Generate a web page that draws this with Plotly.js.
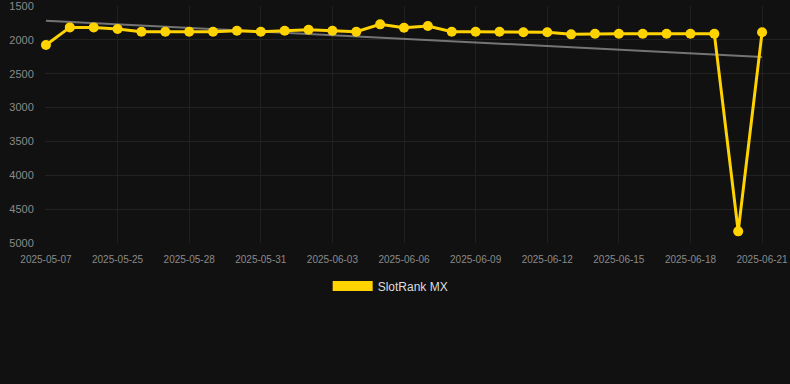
<!DOCTYPE html>
<html>
<head>
<meta charset="utf-8">
<script src="https://cdn.plot.ly/plotly-3.0.1.min.js"></script>
<style>html,body{margin:0;padding:0;background:#111111;}#chart{width:790px;height:384px;}</style>
</head>
<body>
<div id="chart"></div>
<script>
const dates = ["2025-05-07","2025-05-23","2025-05-24","2025-05-25","2025-05-26","2025-05-27","2025-05-28","2025-05-29","2025-05-30","2025-05-31","2025-06-01","2025-06-02","2025-06-03","2025-06-04","2025-06-05","2025-06-06","2025-06-07","2025-06-08","2025-06-09","2025-06-10","2025-06-11","2025-06-12","2025-06-13","2025-06-14","2025-06-15","2025-06-16","2025-06-17","2025-06-18","2025-06-19","2025-06-20","2025-06-21"];
const ranks = [2075,1815,1815,1840,1879,1879,1879,1879,1864,1879,1864,1849,1864,1879,1770,1820,1795,1879,1879,1879,1888,1888,1918,1908,1908,1908,1908,1908,1908,4829,1888];
const trendDates = ["2025-05-07","2025-06-21"];
const trendValues = [1717,2252];
const tickDates = ["2025-05-07","2025-05-25","2025-05-28","2025-05-31","2025-06-03","2025-06-06","2025-06-09","2025-06-12","2025-06-15","2025-06-18","2025-06-21"];
const yTicks = [1500,2000,2500,3000,3500,4000,4500,5000];
const seriesName = "SlotRank MX";

const traces = [
  {x: trendDates, y: trendValues, type: "scatter", mode: "lines", line: {color: "rgba(150,150,150,0.75)", width: 2}, showlegend: false, hoverinfo: "skip"},
  {x: dates, y: ranks, type: "scatter", mode: "lines+markers", line: {color: "#FFD300", width: 3}, marker: {color: "#FFD300", size: 10}, showlegend: false, name: seriesName, cliponaxis: false},
  {x: [null], y: [null], type: "scatter", mode: "lines", line: {color: "#FFD300", width: 11}, name: seriesName, showlegend: true}
];

const layout = {
  width: 790, height: 384,
  paper_bgcolor: "#111111", plot_bgcolor: "#111111",
  margin: {l: 45, r: 0, t: 6, b: 141},
  font: {family: "Liberation Sans, Arial, sans-serif", color: "#888888"},
  xaxis: {
    type: "category", categoryorder: "array", categoryarray: dates,
    range: [-0.04, 31.17],
    tickmode: "array", tickvals: tickDates, ticktext: tickDates,
    tickfont: {size: 10, color: "#8a8a8a"},
    gridcolor: "#202020", showline: false, zeroline: false,
    ticks: "outside", ticklen: 7, tickcolor: "rgba(0,0,0,0)"
  },
  yaxis: {
    range: [5001, 1499],
    tickmode: "array", tickvals: yTicks, ticktext: yTicks.map(String),
    tickfont: {size: 11, color: "#8a8a8a"},
    ticklabeloverflow: "allow",
    gridcolor: "#222222", zeroline: false, showline: false,
    ticks: "outside", ticklen: 8, tickcolor: "rgba(0,0,0,0)"
  },
  showlegend: true,
  legend: {orientation: "h", x: 0.464, xanchor: "center", y: -0.12, yanchor: "top", font: {size: 12, color: "#dddddd"}, itemwidth: 40, bgcolor: "rgba(0,0,0,0)"}
};

Plotly.newPlot("chart", traces, layout, {displayModeBar: false, staticPlot: true});
</script>
</body>
</html>
